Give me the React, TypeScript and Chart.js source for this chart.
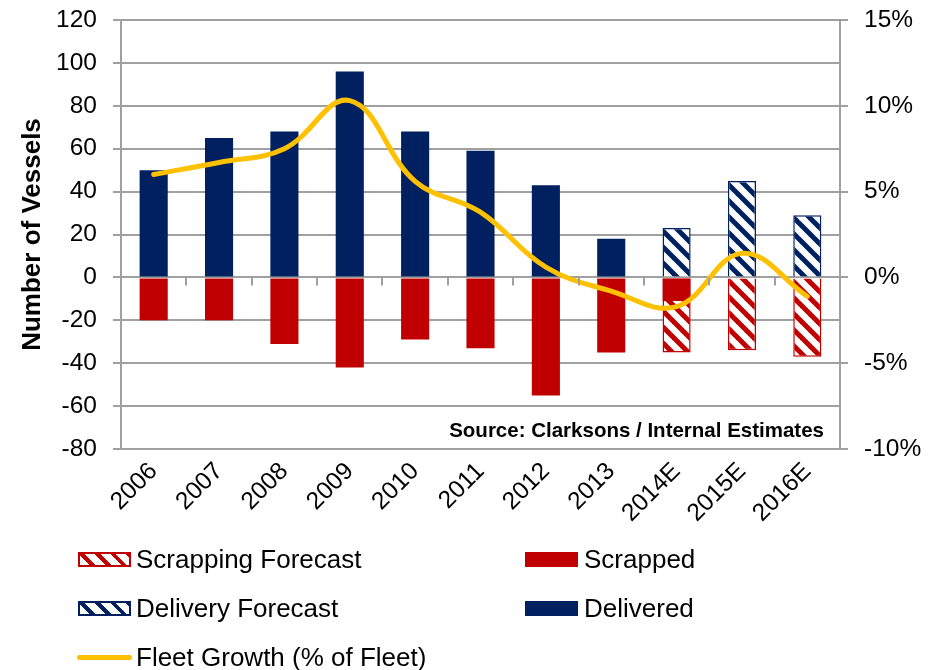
import React, { useEffect, useRef } from "react";
import { Chart, registerables } from "chart.js";
Chart.register(...registerables);

const categories = ["2006", "2007", "2008", "2009", "2010", "2011", "2012", "2013", "2014E", "2015E", "2016E"];
const delivered = [50, 65, 68, 96, 68, 59, 43, 18, null, null, null];
const deliveryForecast = [null, null, null, null, null, null, null, null, 23, 45, 29];
const scrapped = [-20, -20, -31, -42, -29, -33, -55, -35, -11, null, null];
const scrappingForecast = [null, null, null, null, null, null, null, null, -24, -34, -37];
const fleetGrowth = [6.0, 6.7, 7.5, 10.3, 5.6, 3.8, 0.6, -0.8, -1.7, 1.4, -1.1];

const leftMin = -80;
const leftMax = 120;
const leftStep = 20;
const rightMin = -10;
const rightMax = 15;
const rightStep = 5;

const sourceText = "Source: Clarksons / Internal Estimates";
const yTitle = "Number of Vessels";

const NAVY = "#002060";
const RED = "#C00000";
const GOLD = "#FFC000";
const GRID = "#a0a0a0";
const FONT = "'Liberation Sans', Arial, Helvetica, sans-serif";

function makePattern(color: string): CanvasPattern | string {
  const s = 16;
  const c = document.createElement("canvas");
  c.width = s;
  c.height = s;
  const g = c.getContext("2d");
  if (!g) return color;
  g.fillStyle = "#ffffff";
  g.fillRect(0, 0, s, s);
  g.strokeStyle = color;
  g.lineWidth = 5;
  for (let k = -1; k <= 1; k++) {
    g.beginPath();
    g.moveTo(k * s - 2, -2);
    g.lineTo(k * s + s + 2, s + 2);
    g.stroke();
  }
  const p = g.createPattern(c, "repeat");
  return p || color;
}

const zeroTicksPlugin = {
  id: "zeroTicks",
  afterDatasetsDraw(chart: any) {
    const xs = chart.scales.x;
    const ys = chart.scales.y;
    const ctx = chart.ctx;
    const y0 = ys.getPixelForValue(0);
    ctx.save();
    ctx.strokeStyle = GRID;
    ctx.lineWidth = 2;
    for (let i = 1; i < categories.length; i++) {
      const x = Math.round((xs.getPixelForValue(i - 1) + xs.getPixelForValue(i)) / 2);
      ctx.beginPath();
      ctx.moveTo(x, y0);
      ctx.lineTo(x, y0 + 8);
      ctx.stroke();
    }
    ctx.restore();
  },
};

const sourcePlugin = {
  id: "sourceText",
  afterDraw(chart: any) {
    const ctx = chart.ctx;
    const a = chart.chartArea;
    ctx.save();
    ctx.font = `bold 20.5px ${FONT}`;
    ctx.fillStyle = "#000";
    ctx.textAlign = "right";
    ctx.textBaseline = "alphabetic";
    ctx.fillText(sourceText, a.right - 16, a.bottom - 12);
    ctx.restore();
  },
};

const legendRows = [
  { label: "Scrapping Forecast", kind: "hatch", color: RED, left: 78, text: 136, cy: 559 },
  { label: "Scrapped", kind: "solid", color: RED, left: 525, text: 584, cy: 559 },
  { label: "Delivery Forecast", kind: "hatch", color: NAVY, left: 78, text: 136, cy: 608 },
  { label: "Delivered", kind: "solid", color: NAVY, left: 525, text: 584, cy: 608 },
  { label: "Fleet Growth (% of Fleet)", kind: "line", color: GOLD, left: 77, text: 136, cy: 657 },
];

export default function App() {
  const ref = useRef<HTMLCanvasElement | null>(null);

  useEffect(() => {
    if (!ref.current) return;
    const redPat = makePattern(RED);
    const navyPat = makePattern(NAVY);
    const tickFont = { family: FONT, size: 24.5 };
    const chart = new Chart(ref.current, {
      type: "bar",
      data: {
        labels: categories,
        datasets: [
          {
            type: "line",
            label: "Fleet Growth (% of Fleet)",
            data: fleetGrowth,
            yAxisID: "y1",
            borderColor: GOLD,
            backgroundColor: GOLD,
            borderWidth: 5,
            borderCapStyle: "round",
            pointRadius: 0,
            tension: 0.4,
            fill: false,
            order: 0,
          } as any,
          {
            label: "Delivered",
            data: delivered,
            backgroundColor: NAVY,
            borderWidth: 0,
            yAxisID: "y",
            order: 1,
          },
          {
            label: "Delivery Forecast",
            data: deliveryForecast,
            backgroundColor: navyPat as any,
            borderColor: NAVY,
            borderWidth: 1.5,
            yAxisID: "y",
            order: 1,
          },
          {
            label: "Scrapped",
            data: scrapped,
            backgroundColor: RED,
            borderWidth: 0,
            yAxisID: "y",
            order: 1,
          },
          {
            label: "Scrapping Forecast",
            data: scrappingForecast,
            backgroundColor: redPat as any,
            borderColor: RED,
            borderWidth: 1.5,
            yAxisID: "y",
            order: 1,
          },
        ],
      },
      options: {
        responsive: false,
        animation: false,
        devicePixelRatio: 1,
        layout: { padding: { top: 20, left: 0, right: 0, bottom: 0 } },
        datasets: {
          bar: { categoryPercentage: 1, barPercentage: 0.43 },
        },
        plugins: {
          legend: { display: false },
          tooltip: { enabled: false },
        },
        scales: {
          x: {
            stacked: true,
            grid: { display: false, drawTicks: false },
            border: { display: false },
            ticks: {
              font: tickFont,
              color: "#000",
              maxRotation: 45,
              minRotation: 45,
              autoSkip: false,
              padding: 8,
            },
            afterFit: (s: any) => {
              s.height = 221;
              s.paddingLeft = 0;
              s.paddingRight = 0;
            },
          },
          y: {
            stacked: true,
            position: "left",
            min: leftMin,
            max: leftMax,
            ticks: { stepSize: leftStep, font: tickFont, color: "#000", padding: 16 },
            grid: { color: GRID, lineWidth: 2, tickLength: 8, drawTicks: true },
            border: { color: GRID, width: 2 },
            title: {
              display: true,
              text: yTitle,
              color: "#000",
              font: { family: FONT, size: 26, weight: "bold" },
              padding: { top: 17, bottom: 0 },
            },
            afterFit: (s: any) => {
              s.width = 121;
              s.paddingTop = 0;
              s.paddingBottom = 0;
            },
          },
          y1: {
            stacked: false,
            position: "right",
            min: rightMin,
            max: rightMax,
            ticks: {
              stepSize: rightStep,
              font: tickFont,
              color: "#000",
              padding: 16,
              callback: (v: any) => `${v}%`,
            },
            grid: { drawOnChartArea: false, color: GRID, lineWidth: 2, tickLength: 8 },
            border: { color: GRID, width: 2 },
            afterFit: (s: any) => {
              s.width = 91;
              s.paddingTop = 0;
              s.paddingBottom = 0;
            },
          },
        },
      },
      plugins: [zeroTicksPlugin, sourcePlugin],
    });
    return () => chart.destroy();
  }, []);

  return (
    <div style={{ position: "absolute", left: 0, top: 0, width: 931, height: 670, background: "#fff" }}>
      <canvas ref={ref} width={931} height={670} style={{ position: "absolute", left: 0, top: 0, width: 931, height: 670 }} />
      {legendRows.map((r) => (
        <React.Fragment key={r.label}>
          {r.kind === "line" ? (
            <div
              style={{
                position: "absolute",
                left: r.left,
                top: r.cy - 2.5,
                width: 55,
                height: 5,
                borderRadius: 3,
                background: r.color,
              }}
            />
          ) : (
            <div
              style={{
                position: "absolute",
                left: r.left,
                top: r.cy - 7.5,
                width: 53,
                height: 15,
                boxSizing: "border-box",
                border: r.kind === "hatch" ? `2px solid ${r.color}` : "none",
                background:
                  r.kind === "hatch"
                    ? `repeating-linear-gradient(45deg, #fff 0px, #fff 7px, ${r.color} 7px, ${r.color} 11px)`
                    : r.color,
              }}
            />
          )}
          <div
            style={{
              position: "absolute",
              left: r.text,
              top: r.cy - 15,
              height: 30,
              lineHeight: "30px",
              fontFamily: FONT,
              fontSize: 26,
              color: "#000",
              whiteSpace: "nowrap",
            }}
          >
            {r.label}
          </div>
        </React.Fragment>
      ))}
    </div>
  );
}
